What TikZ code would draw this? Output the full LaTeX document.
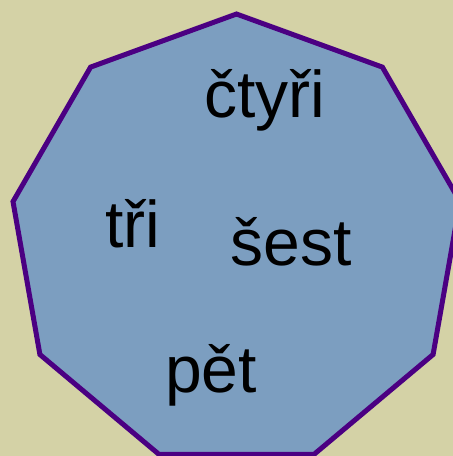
\documentclass[tikz,border=0pt]{standalone}
\usepackage{fontspec}
\setmainfont{Liberation Sans}
\definecolor{bgkhaki}{RGB}{212,210,166}
\definecolor{polyfill}{RGB}{124,158,192}
\definecolor{polyline}{RGB}{75,0,130}
\tikzset{
  lbl/.style={anchor=base, font=\fontsize{66}{70}\selectfont, text=black, inner sep=0pt},
  nonagon/.style={fill=polyfill, draw=polyline, line width=5pt, line join=miter}
}
\begin{document}
\begin{tikzpicture}[x=1pt,y=-1pt]
\useasboundingbox (0,0) rectangle (453,456);
\fill[bgkhaki] (0,0) rectangle (453,456);
\clip (0,0) rectangle (453,456);
\draw[nonagon] (236.5,14) -- (90.6,67.1) -- (13.0,201.6) -- (39.9,354.5) -- (158.9,454.3) -- (314.1,454.3) -- (433.1,354.5) -- (460.0,201.6) -- (382.4,67.1) -- cycle;
\node[lbl] (ctyri) at (264.5,117) {čtyři};
\node[lbl] (tri) at (132.5,247) {tři};
\node[lbl] (sest) at (291,265) {šest};
\node[lbl] (pet) at (211,392) {pět};
\end{tikzpicture}
\end{document}
